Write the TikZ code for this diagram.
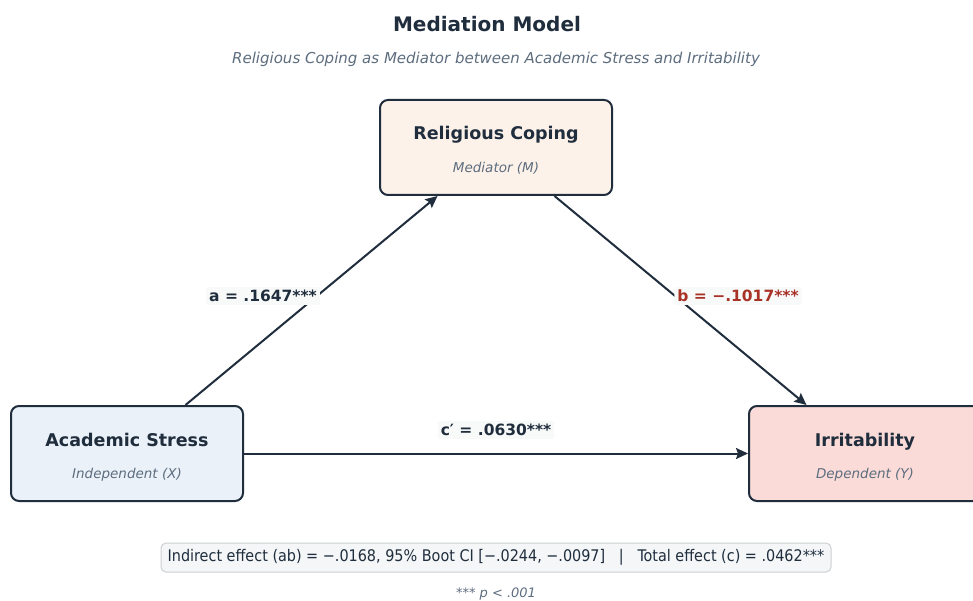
\documentclass[tikz,border=0pt]{standalone}
\usepackage{fontspec}
\setmainfont{DejaVu Sans}
\newfontfamily\condfont{DejaVu Sans Condensed}
\usetikzlibrary{arrows.meta,calc}
\definecolor{ink}{HTML}{1F2D3D}
\definecolor{subgray}{HTML}{5D6D7E}
\definecolor{redlab}{HTML}{A93226}
\definecolor{fillM}{HTML}{FDF2EA}
\definecolor{fillX}{HTML}{EAF1F8}
\definecolor{fillY}{HTML}{FADBD8}
\definecolor{labbg}{HTML}{F8F9F9}
\definecolor{notefill}{HTML}{F4F6F7}
\definecolor{notedraw}{HTML}{CCD1D1}
\tikzset{
  varbox/.style={draw=ink, line width=2pt, rounded corners=8pt, minimum width=232pt, minimum height=95pt, inner sep=0pt},
  vartitle/.style={text=ink, font=\bfseries\fontsize{17.5}{20}\selectfont, inner sep=0pt, anchor=base},
  varsub/.style={text=subgray, font=\itshape\fontsize{13.5}{16}\selectfont, inner sep=0pt, anchor=base},
  patharrow/.style={draw=ink, line width=2pt, -{Stealth[length=12pt,width=11pt,inset=2pt]}},
  coef/.style={fill=labbg, rounded corners=2pt, inner sep=3pt, font=\bfseries\fontsize{15.5}{18}\selectfont, text=ink}
}
\begin{document}
\begin{tikzpicture}[x=1pt,y=-1pt]
\clip (0,0) rectangle (973,601);
\fill[white] (0,0) rectangle (973,601);
% title
\node[text=ink, font=\bfseries\fontsize{20}{24}\selectfont] (title) at (487,24) {Mediation Model};
\node[text=subgray, font=\itshape\fontsize{15}{18}\selectfont] (subtitle) at (496,59) {Religious Coping as Mediator between Academic Stress and Irritability};
% boxes
\node[varbox, fill=fillM] (M) at (496,147.5) {};
\node[varbox, fill=fillX] (X) at (127,453.5) {};
\node[varbox, fill=fillY] (Y) at (865,453.5) {};
\node[vartitle] (Mt) at (496,140) {Religious Coping};
\node[varsub] (Ms) at (496,172.5) {Mediator (M)};
\node[vartitle] (Xt) at (127,446) {Academic Stress};
\node[varsub] (Xs) at (127,478.5) {Independent (X)};
\node[vartitle] (Yt) at (865,446) {Irritability};
\node[varsub] (Ys) at (865,478.5) {Dependent (Y)};
% arrows
\coordinate (Xa) at ($(X.north west)!0.75!(X.north east)$);
\coordinate (Ma) at ($(M.south west)!0.25!(M.south east)$);
\coordinate (Mb) at ($(M.south west)!0.75!(M.south east)$);
\coordinate (Yb) at ($(Y.north west)!0.25!(Y.north east)$);
\draw[patharrow] (Xa) -- (Ma);
\draw[patharrow] (Mb) -- (Yb);
\draw[patharrow] (X.east) -- (Y.west);
% coefficient labels
\node[coef] (la) at (263,296) {a = .1647***};
\node[coef, text=redlab] (lb) at (738,296) {b = −.1017***};
\node[coef] (lc) at (496,430) {c′ = .0630***};
% note
\node[draw=notedraw, fill=notefill, line width=1pt, rounded corners=5pt, minimum width=670pt, minimum height=29pt, inner sep=0pt, text=ink, font=\condfont\fontsize{16}{19}\selectfont] (note) at (496,557.5) {Indirect effect (ab) = −.0168, 95\% Boot CI [−.0244, −.0097] \ \ | \ \ Total effect (c) = .0462***};
\node[text=subgray, font=\itshape\fontsize{13}{15}\selectfont] (sig) at (496,594) {*** p < .001};
\end{tikzpicture}
\end{document}
